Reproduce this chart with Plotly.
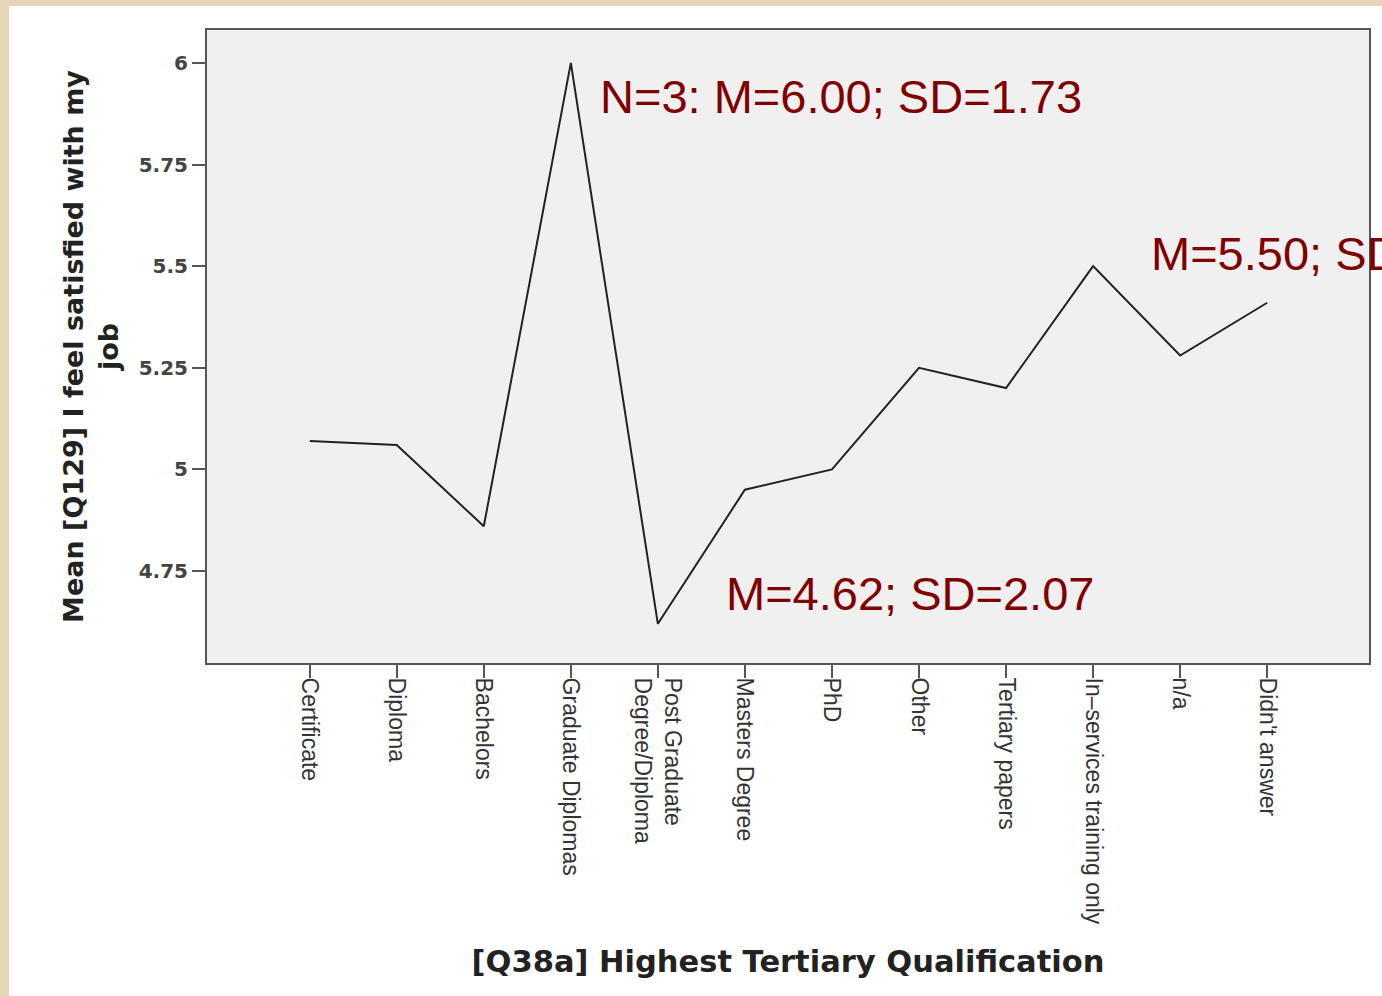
import plotly.graph_objects as go

categories = [
    "Certificate", "Diploma", "Bachelors", "Graduate Diplomas",
    "Post Graduate<br>Degree/Diploma", "Masters Degree", "PhD", "Other",
    "Tertiary papers", "In–services training only", "n/a", "Didn't answer",
]
means = [5.07, 5.06, 4.86, 6.00, 4.62, 4.95, 5.00, 5.25, 5.20, 5.50, 5.28, 5.41]

y_tickvals = [4.75, 5.0, 5.25, 5.5, 5.75, 6.0]
y_ticktext = ["4.75", "5", "5.25", "5.5", "5.75", "6"]

notes = [
    (3, 6.00, "N=3: M=6.00; SD=1.73"),
    (4, 4.62, "M=4.62; SD=2.07"),
    (9, 5.50, "M=5.50; SD"),
]

W, H = 1382, 996
L, R, T, B = 207, 13, 30, 333
PW, PH = W - L - R, H - T - B

fig = go.Figure()
fig.add_trace(go.Scatter(
    x=categories, y=means, mode="lines",
    line=dict(color="#222222", width=2),
    hoverinfo="x+y",
))

axis_col = "#555555"
fig.update_layout(
    width=W, height=H,
    margin=dict(l=L, r=R, t=T, b=B, autoexpand=False),
    paper_bgcolor="white",
    plot_bgcolor="#f0f0f0",
    showlegend=False,
    font=dict(family="Liberation Sans"),
    xaxis=dict(
        type="category",
        range=[-1.18, 12.17],
        showgrid=False, zeroline=False,
        showline=True, linecolor=axis_col, linewidth=2, mirror=True,
        ticks="outside", ticklen=13, tickwidth=2, tickcolor=axis_col,
        tickangle=90, ticklabelstandoff=-5,
        tickfont=dict(family="Liberation Sans", size=23, color="#333333"),
        title=dict(
            text="[Q38a] Highest Tertiary Qualification",
            font=dict(family="DejaVu Sans", size=30.5, color="#222222", weight="bold"),
            standoff=27,
        ),
        automargin=False,
    ),
    yaxis=dict(
        range=[4.5236, 6.081],
        tickvals=y_tickvals, ticktext=y_ticktext,
        showgrid=False, zeroline=False,
        showline=True, linecolor=axis_col, linewidth=2, mirror=True,
        ticks="outside", ticklen=13, tickwidth=2, tickcolor=axis_col,
        tickfont=dict(family="DejaVu Sans", size=20, color="#444444", weight="bold"),
        title=dict(
            text="Mean [Q129] I feel satisfied with my<br>job",
            font=dict(family="DejaVu Sans", size=27, color="#222222", weight="bold"),
            standoff=12,
        ),
        automargin=False,
    ),
)

# beige frame strips at left and top edges of the page
def px_x(p):
    return (p - L) / PW

def px_y(q):
    return (H - B - q) / PH

beige = "#e6d5b8"
fig.add_shape(type="rect", xref="paper", yref="paper",
              x0=px_x(0), x1=px_x(9), y0=px_y(H), y1=px_y(0),
              fillcolor=beige, line=dict(width=0), layer="below")
fig.add_shape(type="rect", xref="paper", yref="paper",
              x0=px_x(0), x1=px_x(W), y0=px_y(6), y1=px_y(0),
              fillcolor=beige, line=dict(width=0), layer="below")

shifts = [(27, -34), (66, 30), (56, 13)]
for (idx, val, txt), (dx, dy) in zip(notes, shifts):
    fig.add_annotation(
        x=categories[idx], y=val, xref="x", yref="y",
        text=txt, showarrow=False,
        xanchor="left", yanchor="middle",
        xshift=dx, yshift=dy,
        font=dict(family="Liberation Sans", size=47, color="#800000"),
    )

fig.write_html(
    "out.html",
    config={"displayModeBar": False},
    post_script="document.body.style.margin='0';document.body.style.overflow='hidden';",
)
